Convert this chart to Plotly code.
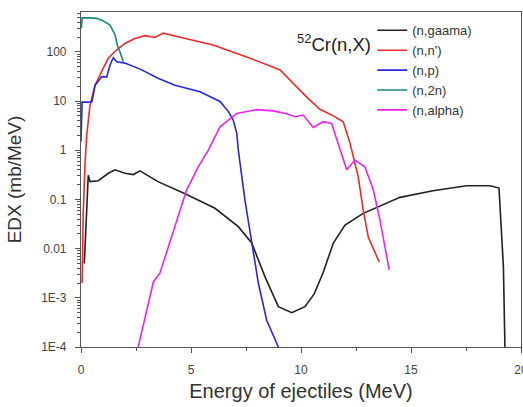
import plotly.graph_objects as go

# (n,gaama)
gam_x = [0.15, 0.25, 0.30, 0.33, 0.41, 0.79, 1.24, 1.55, 2.0, 2.38, 2.68, 3.5, 4.73, 6.09, 7.15, 7.76,
         8.36, 8.97, 9.58, 10.18, 10.6, 11.0, 11.47, 12.0, 12.83, 14.5, 16.0, 17.53, 18.6, 19.0, 19.2, 19.27]
gam_y = [0.005, 0.05, 0.3, 0.31, 0.23, 0.24, 0.34, 0.40, 0.34, 0.32, 0.38, 0.23, 0.13, 0.066, 0.028, 0.013,
         0.0027, 0.00066, 0.0005, 0.00066, 0.0012, 0.0032, 0.013, 0.03, 0.052, 0.11, 0.15, 0.19, 0.19, 0.17, 0.0043, 0.0001]

# (n,n')
nn_x = [0.05, 0.10, 0.18, 0.26, 0.41, 0.64, 0.94, 1.24, 1.62, 2.0, 2.45, 2.91, 3.36, 3.74, 4.27, 5.03, 5.64,
        6.0, 7.53, 9.05, 10.26, 10.86, 11.47, 11.92, 12.23, 12.6, 12.83, 13.06, 13.55]
nn_y = [0.002, 0.05, 0.5, 2.0, 8.3, 21, 40, 74, 110, 148, 186, 213, 196, 240, 210, 174, 155,
        138, 79, 43, 12, 6.8, 5.0, 3.8, 1.38, 0.29, 0.06, 0.017, 0.0054]

# (n,p)
np_x = [0.0, 0.05, 0.3, 0.5, 0.64, 0.94, 1.17, 1.32, 1.47, 1.62, 2.0, 2.76, 3.5, 4.27, 5.41, 6.32, 6.7,
        6.92, 7.08, 7.15, 7.45, 7.76, 8.06, 8.44, 8.97]
np_y = [1.5, 9.5, 9.5, 9.7, 21, 31, 31, 54, 76, 63, 59, 43, 29, 21, 15.5, 9.8, 6.1,
        4.1, 2.2, 1.0, 0.098, 0.013, 0.002, 0.00035, 0.0001]

# (n,2n)
n2n_x = [0.02, 0.05, 0.4, 0.71, 1.0, 1.32, 1.55, 1.65, 1.77, 1.92]
n2n_y = [300, 490, 490, 480, 430, 350, 220, 138, 100, 63]

# (n,alpha)
al_x = [2.6, 2.98, 3.29, 3.59, 3.97, 4.42, 4.80, 5.33, 5.79, 6.32, 7.08, 7.98, 8.74, 9.35, 9.73, 10.1,
        10.56, 11.0, 11.39, 12.08, 12.45, 12.9, 13.29, 13.59, 14.01]
al_y = [0.0001, 0.00056, 0.0021, 0.0032, 0.011, 0.045, 0.155, 0.46, 1.0, 3.0, 5.6, 6.7, 6.3, 5.5, 4.8, 5.2,
        2.9, 3.8, 3.5, 0.40, 0.63, 0.46, 0.155, 0.038, 0.0037]

y_tickvals = [1e-4, 1e-3, 0.01, 0.1, 1, 10, 100]
y_ticktext = ["1E-4", "1E-3", "0.01", "0.1", "1", "10", "100"]
x_tickvals = [0, 5, 10, 15, 20]

series = [
    ("(n,gaama)", gam_x, gam_y, "#222222"),
    ("(n,n')", nn_x, nn_y, "#f02828"),
    ("(n,p)", np_x, np_y, "#2828e0"),
    ("(n,2n)", n2n_x, n2n_y, "#138a80"),
    ("(n,alpha)", al_x, al_y, "#f020f0"),
]

fig = go.Figure()
for name, xs, ys, c in series:
    fig.add_trace(go.Scatter(x=xs, y=ys, mode="lines", name=name,
                             line=dict(color=c, width=1.6)))

minor_y = []
for e in range(-4, 3):
    for m in range(2, 10):
        v = m * 10 ** e
        if v < 650:
            minor_y.append(v)

fig.update_layout(
    width=523, height=407,
    margin=dict(l=81, r=2, t=12, b=60),
    paper_bgcolor="white", plot_bgcolor="white",
    font=dict(family="Liberation Sans, Arial, sans-serif", color="#333"),
    showlegend=True,
    legend=dict(x=0.662, y=0.99, xanchor="left", yanchor="top",
                bgcolor="rgba(0,0,0,0)", font=dict(size=13, color="#333"),
                tracegroupgap=0, itemwidth=30),
    xaxis=dict(range=[0, 20], tickvals=x_tickvals, ticks="outside", ticklen=5,
               tickcolor="#555", linecolor="#555", linewidth=1.2, mirror=True,
               showgrid=False, zeroline=False, automargin=False,
               ticklabelstandoff=6, ticklabeloverflow="allow",
               tickfont=dict(size=12, color="#444"),
               minor=dict(tickvals=[2.5, 7.5, 12.5, 17.5], ticks="outside", ticklen=3, tickcolor="#555"),
               title=dict(text="Energy of ejectiles (MeV)", font=dict(size=20, color="#333"), standoff=8)),
    yaxis=dict(type="log", range=[-4, 2.81], tickvals=y_tickvals, ticktext=y_ticktext,
               ticks="outside", ticklen=5, tickcolor="#555", linecolor="#555", linewidth=1.2,
               mirror=True, showgrid=False, zeroline=False, automargin=False,
               ticklabelstandoff=6,
               tickfont=dict(size=12, color="#444"),
               minor=dict(tickvals=minor_y, ticks="outside", ticklen=3, tickcolor="#555"),
               title=dict(text="EDX (mb/MeV)", font=dict(size=19, color="#333"), standoff=14)),
)

fig.add_annotation(xref="paper", yref="paper", x=0.487, y=0.95, xanchor="left", yanchor="top",
                   text="<sup>52</sup>Cr(n,X)", showarrow=False,
                   font=dict(size=18.5, color="#222"))

fig.write_html("out.html", config={"displayModeBar": False},
               post_script="document.body.style.margin='0';document.body.style.overflow='hidden';")
